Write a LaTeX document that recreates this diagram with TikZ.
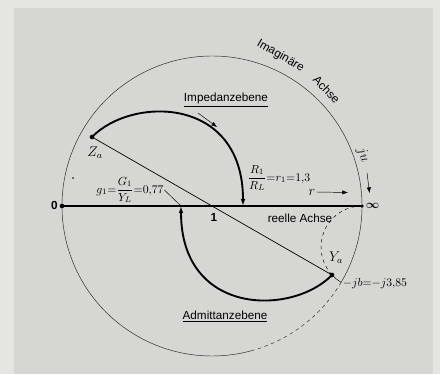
\documentclass[tikz,border=0pt]{standalone}
\usepackage{amsmath}
\usepackage{fontspec}
\setmainfont{Liberation Sans}
\usetikzlibrary{arrows.meta}
\definecolor{paper}{RGB}{229,229,226}
\definecolor{scan}{RGB}{214,214,210}
\tikzset{
  locus/.style={line width=1.6pt,-{Latex[length=6pt,width=4pt]}},
  pt/.style={circle,fill,inner sep=0pt,minimum size=4pt},
  lbl/.style={inner sep=1pt},
  formel/.style={inner sep=0.5pt},
}

\begin{document}
\begin{tikzpicture}[scale=1.5]
\fill[paper] (-4.24,-3.36) rectangle (4.56,4.12);
\fill[scan] (-3.96,-3.36) rectangle (4.42,3.96);
\useasboundingbox (-4.24,-3.36) rectangle (4.56,4.12);
% Kreis
\draw[thin,gray!30!black] (-30.6:3) arc[start angle=-30.6,end angle=285,radius=3];
\draw[thin,gray!30!black,dashed] (-30.6:3) arc[start angle=-30.6,end angle=-75,radius=3];
\node[pt] (zero) at (-3,0) {};
\node[pt,minimum size=3pt] (inf) at (3,0) {};
\node[pt] (Za) at (-2.4,1.38) {};
\node[pt] (Ya) at (2.4,-1.38) {};
\coordinate (r1) at (0.62,0);
\coordinate (g1) at (-0.62,0);
\draw[line width=1pt] (zero.center)--(inf.center);
\draw[semithick] (Za.center)--(Ya.center);
\draw[thin,dashed] (inf.center) arc[start angle=90,end angle=223,radius=0.82];
\draw[thin] (Ya.center) arc[start angle=223,end angle=239.4,radius=0.82];
\draw[locus] (Za.center) .. controls (-1.6,2.2) and (0.62,2.2) .. (r1);
\draw[locus] (Ya.center) .. controls (1.6,-2.2) and (-0.62,-2.2) .. (g1);
\node[circle,fill,inner sep=0pt,minimum size=1.5pt] (dot) at (-2.78,0.56) {};
% Beschriftung
\node[lbl,anchor=east] (l0) at (-3.06,0.02) {\textbf{0}};
\node[lbl] (l1) at (0.04,-0.22) {\textbf{1}};
\node[lbl,anchor=west] (linf) at (3.05,0) {$\boldsymbol{\infty}$};
\node[lbl] (reell) at (1.76,-0.24) {reelle Achse};
\node[lbl] (imp) at (0.28,2.12) {\underline{Impedanzebene}};
\node[lbl] (adm) at (0.26,-2.2) {\underline{Admittanzebene}};
\node[lbl,font=\large] (laZ) at (-2.34,1.06) {$Z_a$};
\node[lbl,font=\large] (laY) at (2.48,-1.04) {$Y_a$};
\node[formel] (glbl) at (-1.64,0.32) {$g_1{=}\dfrac{G_1}{Y_L}{=}0{,}77$};
\draw[thin] (glbl.east)--(g1);
\node[formel] (rlbl) at (1.34,0.56) {$\dfrac{R_1}{R_L}{=}r_1{=}1{,}3$};
\node[lbl,font=\large] (rr) at (2.0,0.28) {$r$};
\coordinate (rend) at (2.72,0.27);
\draw[-Latex] (rr.east)--(rend);
\node[lbl,rotate=-70,font=\large] (ju) at (3.02,1.02) {$ju$};
\coordinate (ja) at (3.1,0.66);
\coordinate (jb) at (3.15,0.26);
\draw[-Latex] (ja)--(jb);
\coordinate (da) at (-0.28,1.86);
\coordinate (db) at (0.1,1.58);
\draw[-Latex] (da)--(db);
\node[lbl,rotate=-30] (im1) at (65.5:3.3) {Imaginäre};
\node[lbl,rotate=-46] (im2) at (45.5:3.27) {Achse};
\node[formel] (bl) at (3.26,-1.56) {$-jb{=}{-}j3{,}85$};
\end{tikzpicture}
\end{document}
